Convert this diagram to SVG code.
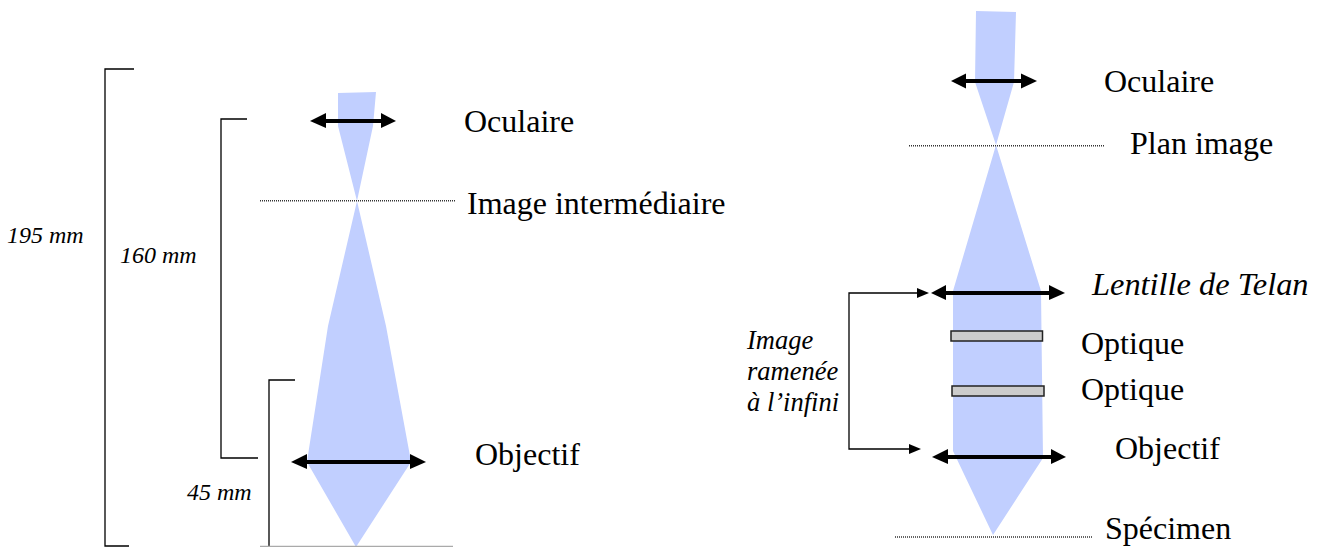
<svg xmlns="http://www.w3.org/2000/svg" width="1321" height="547" viewBox="0 0 1321 547">
<style>
text{font-family:"Liberation Serif","Times New Roman",serif;fill:#000}
.l{font-size:32px}
.i{font-size:24px;font-style:italic}
.i2{font-size:26.500px;font-style:italic}
.li{font-size:32.400px;font-style:italic}
.beam{fill:#c1cfff;stroke:none}
.lens{stroke:#000;stroke-width:4;fill:none}
.head{fill:#000;stroke:none}
.br{fill:none;stroke:#000;stroke-width:1.300}
.dot{stroke:#333;stroke-width:1.500;stroke-dasharray:1 1;fill:none}
.opt{fill:#ccc;stroke:#222;stroke-width:1.500}
</style>
<rect width="1321" height="547" fill="#fff"/>
<g id="left-beam">
<path class="beam" d="M338 93 L376 92 L373 126 L357 201 L386 326 L410 456 L411 462 L356 547 L307 462 L308 455 L328 326 L357 201 L338 126Z"/>
</g>
<g id="right-beam">
<path class="beam" d="M976 11 L1016 12 L1014 82 L996 145 L1041 291 L1043 458 L993 535 L953 451 L953 291 L996 145 L975 82Z"/>
</g>
<g id="connectors">
<path class="br" d="M134 69 H105 V546 H129"/>
<path class="br" d="M247 119 H221 V458 H258"/>
<path class="br" d="M295 380 H269 V546"/>
<path class="dot" d="M260 200.700 H456"/>
<path d="M260 546.500 H453" stroke="#aaa" stroke-width="1.500" fill="none"/>
<path class="dot" d="M909 145.700 H1105"/>
<path class="dot" d="M895 537 H1092"/>
<path class="br" d="M917 293 H849 V449 H910"/>
<path class="head" d="M917 288 L929 293 L917 298Z"/>
<path class="head" d="M909 444 L921 449 L909 454Z"/>
</g>
<g id="lens-oculaire-left">
<path class="lens" d="M320 121 H386"/>
<path class="head" d="M326 113 V128 L310 121Z"/>
<path class="head" d="M381 113 V128 L396 121Z"/>
</g>
<g id="lens-objectif-left">
<path class="lens" d="M303 462 H416"/>
<path class="head" d="M307 454 V469 L291 462Z"/>
<path class="head" d="M410 454 V469 L426 462Z"/>
</g>
<g id="lens-oculaire-right">
<path class="lens" d="M960 81 H1026"/>
<path class="head" d="M966 73.500 V88.500 L951 81Z"/>
<path class="head" d="M1021 73.500 V88.500 L1037 81Z"/>
</g>
<g id="lens-telan">
<path class="lens" d="M940 293 H1055"/>
<path class="head" d="M946 285 V300 L931 293Z"/>
<path class="head" d="M1049 285 V300 L1065 293Z"/>
</g>
<g id="lens-objectif-right">
<path class="lens" d="M942 457 H1056"/>
<path class="head" d="M948 449 V464 L932 457Z"/>
<path class="head" d="M1051 449 V464 L1066 457Z"/>
</g>
<g id="optique-1"><rect class="opt" x="951" y="331" width="91.500" height="10"/></g>
<g id="optique-2"><rect class="opt" x="952" y="386" width="92" height="10"/></g>
<g id="labels-left">
<text class="l" x="464" y="132">Oculaire</text>
<text class="l" x="467" y="214">Image intermédiaire</text>
<text class="l" x="475" y="465">Objectif</text>
<text class="i" x="7" y="243">195 mm</text>
<text class="i" x="120" y="263">160 mm</text>
<text class="i" x="187" y="500">45 mm</text>
</g>
<g id="labels-right">
<text class="l" x="1104" y="92">Oculaire</text>
<text class="l" x="1130" y="154">Plan image</text>
<text class="li" x="1092" y="295">Lentille de Telan</text>
<text class="l" x="1081" y="354">Optique</text>
<text class="l" x="1081" y="400">Optique</text>
<text class="l" x="1115" y="459">Objectif</text>
<text class="l" x="1105" y="539">Spécimen</text>
<text class="i2" x="747" y="349">Image</text>
<text class="i2" x="747" y="380">ramenée</text>
<text class="i2" x="747" y="411">à l’infini</text>
</g>
</svg>
